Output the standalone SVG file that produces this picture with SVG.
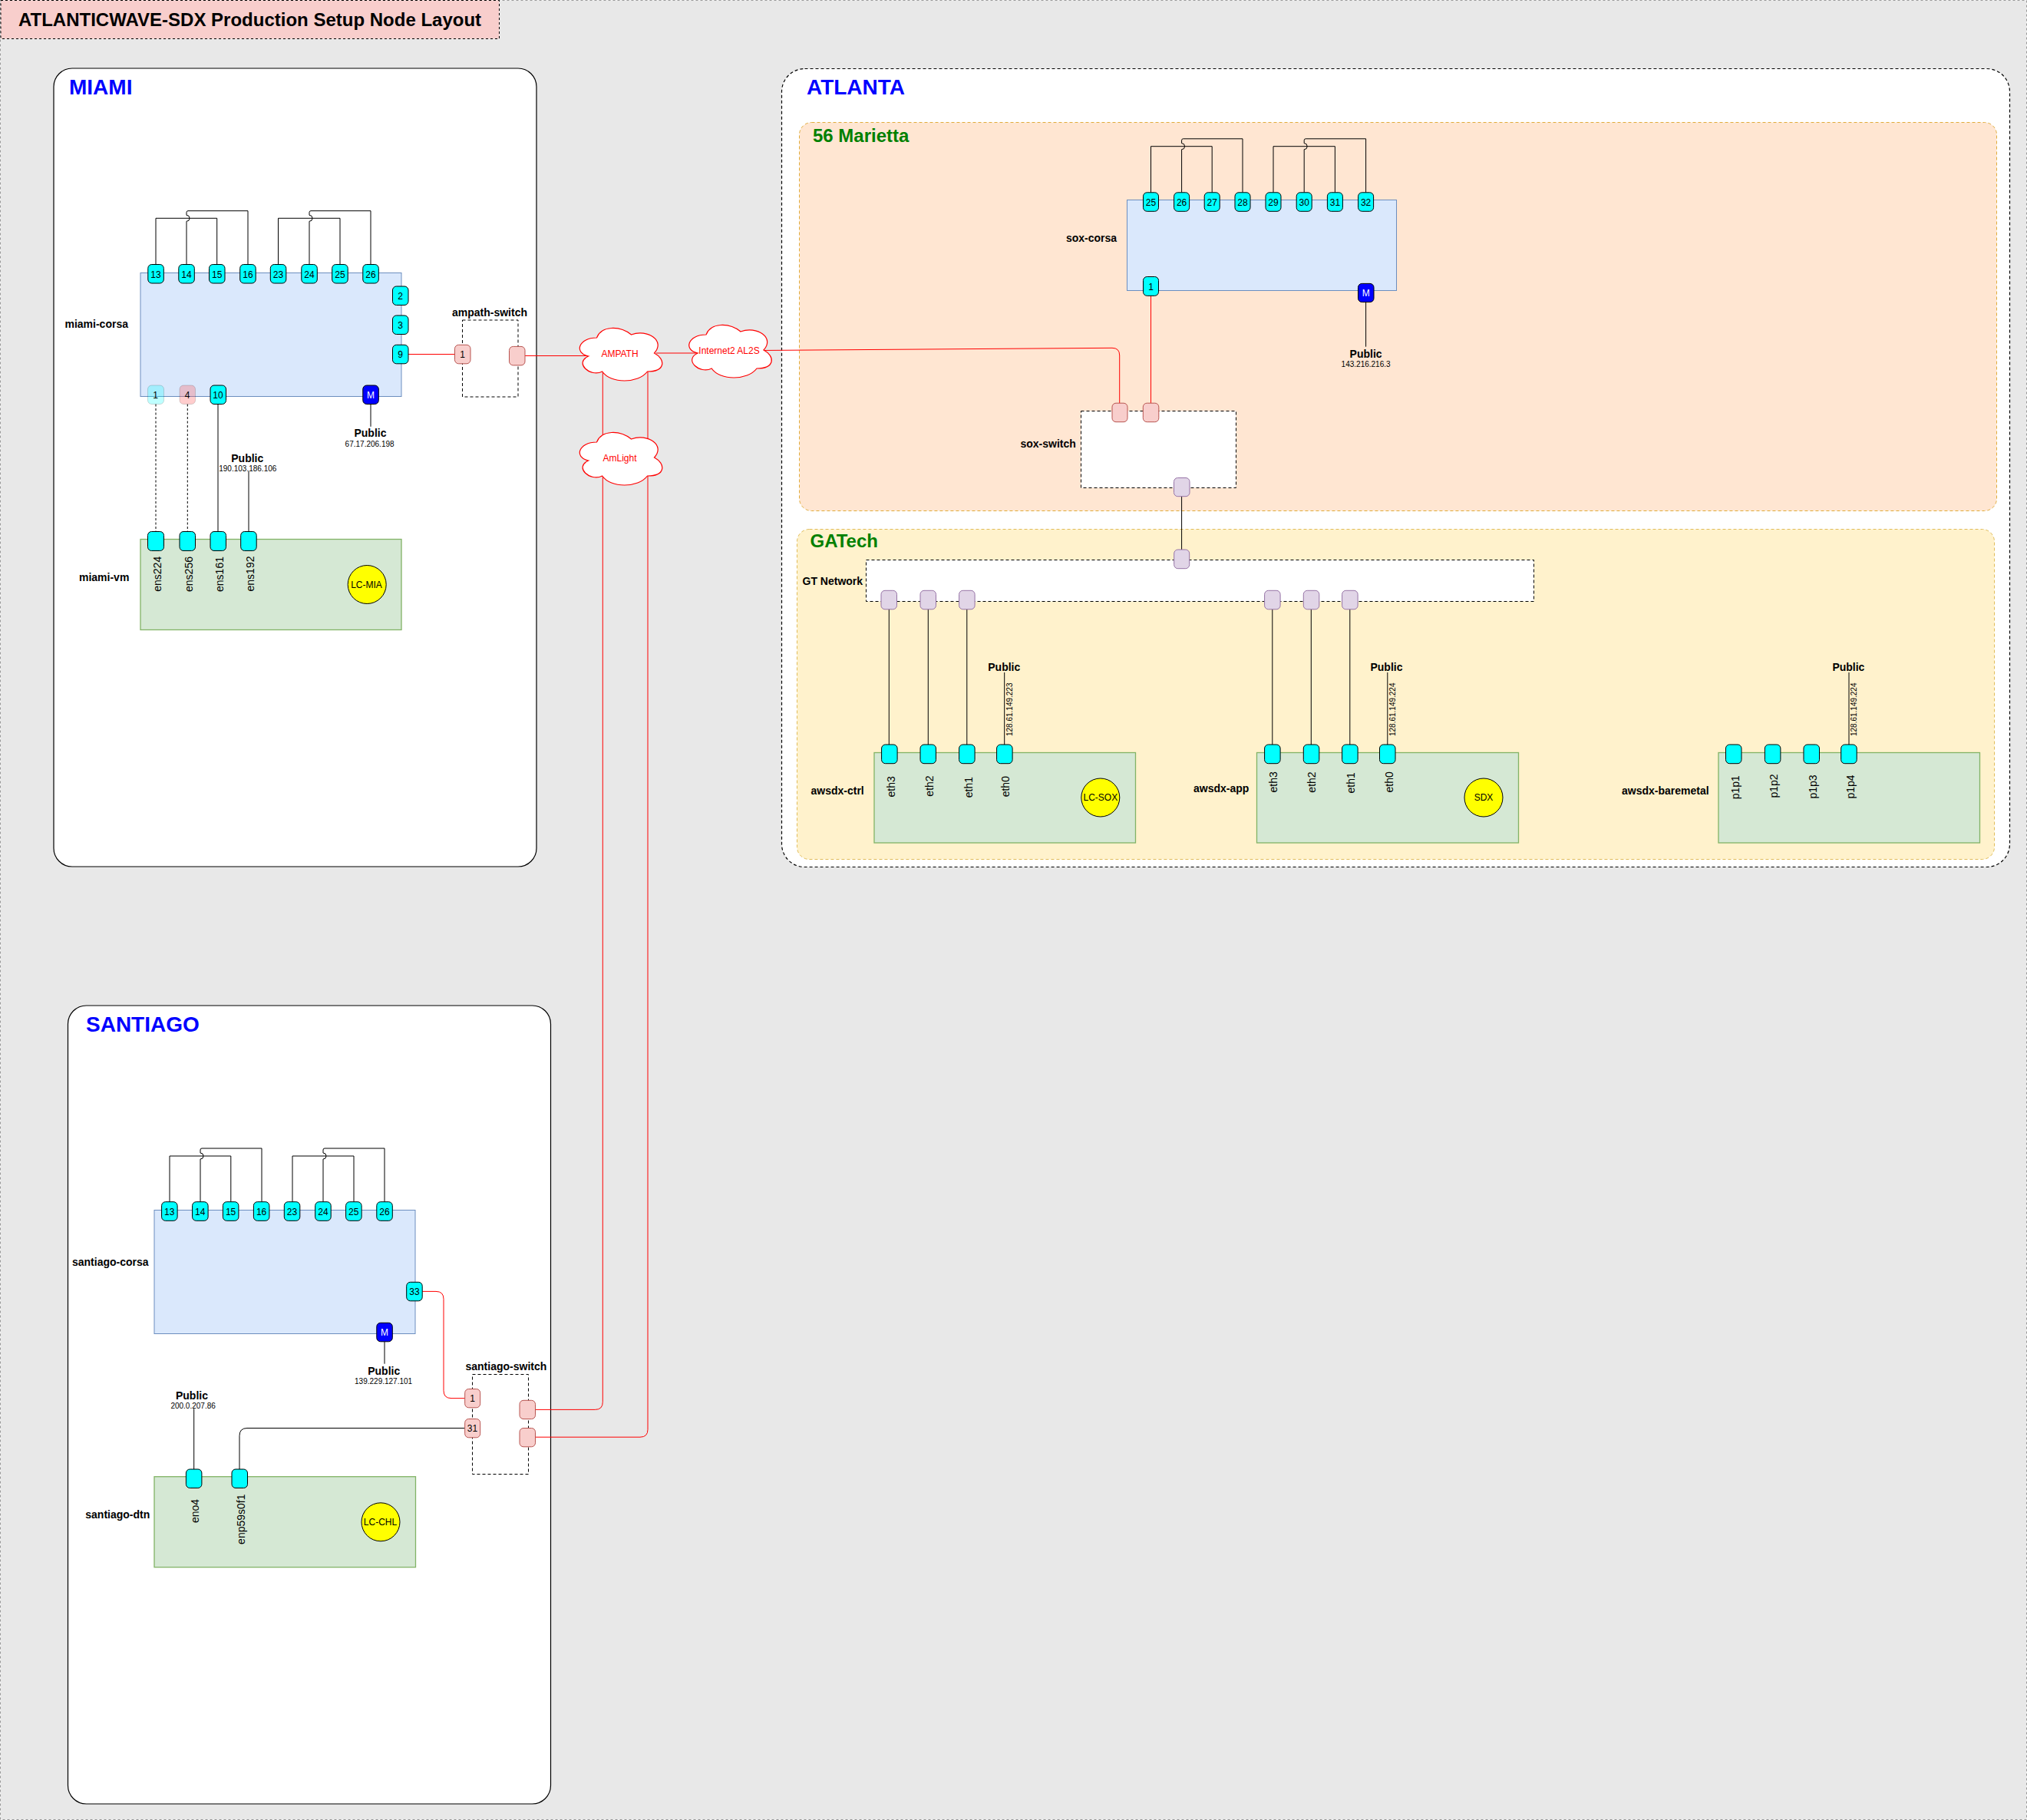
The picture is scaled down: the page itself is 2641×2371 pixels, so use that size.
<svg xmlns="http://www.w3.org/2000/svg" width="2641" height="2371" viewBox="0 0 2641 2371">
<style>
text{font-family:"Liberation Sans",Arial,sans-serif;fill:#000}
.c text,.lab,.ip,.rot,.bt,.big{dominant-baseline:central}
.lab{font-weight:bold;font-size:14px}
.pub{font-weight:bold;font-size:14px;text-anchor:middle;dominant-baseline:central}
.ip{font-size:10px;text-anchor:middle}
.rot{font-size:14px;text-anchor:middle}
.ttl{font-weight:bold;font-size:28px;fill:#00f}
.sub{font-weight:bold;font-size:24px;fill:#008000}
.site{fill:#fff;stroke:#000;stroke-width:1.2}
.dash{stroke-dasharray:4 3}
.sw{fill:#fff;stroke:#000;stroke-dasharray:4 3}
.corsa{fill:#dae8fc;stroke:#6c8ebf}
.vm{fill:#d5e8d4;stroke:#82b366;stroke-width:1.3}
.c rect{stroke:#000;stroke-width:1}
.c text{font-size:12px;text-anchor:middle}
.cy rect{fill:#0ff}
.rd rect{fill:#f8cecc;stroke:#b85450}
.pu rect{fill:#e1d5e7;stroke:#9673a6}
.bl rect{fill:#00f}
.bl text{fill:#fff}
.lc circle{fill:#ff0;stroke:#000}
.lc text{font-size:12px;text-anchor:middle;dominant-baseline:central}
.cloud use{fill:#fff;stroke:#f00;stroke-width:1.2}
.cloud text{fill:#f00;font-size:12px;text-anchor:middle;dominant-baseline:central}
#connectors path{fill:none;stroke:#000;stroke-width:1}
#connectors .r{stroke:#f00}
#connectors .d{stroke-dasharray:3 2.5}
</style>
<defs>
<path id="cloud" d="M30 20C6 20 0 40 19.200 44C0 52.800 21.600 72 37.200 64C48 80 84 80 96 64C120 64 120 48 105 40C120 24 96 8 75 16C60 4 36 4 30 20Z"/>
</defs>

<g id="background"><rect x="0.500" y="0.500" width="2640" height="2370" fill="#e8e8e8" stroke="#999" stroke-dasharray="3 3"/></g>

<g id="title"><rect x="1" y="0.500" width="649.500" height="50" fill="#f8cecc" stroke="#000" stroke-dasharray="3 3"/><text x="24" y="33.500" font-size="24" font-weight="bold">ATLANTICWAVE-SDX Production Setup Node Layout</text></g>

<g id="site-miami"><rect class="site" x="70" y="89" width="629" height="1040" rx="24"/><text class="ttl" x="90" y="122.500">MIAMI</text></g>
<g id="site-santiago"><rect class="site" x="88.500" y="1310" width="629" height="1040" rx="24"/><text class="ttl" x="112" y="1343.500">SANTIAGO</text></g>
<g id="site-atlanta"><rect class="site dash" stroke-width="1" x="1018.500" y="89.500" width="1600" height="1040" rx="30"/><text class="ttl" x="1051" y="122.700">ATLANTA</text></g>
<g id="site-56-marietta"><rect x="1041.500" y="159.500" width="1560" height="506" rx="16" fill="#ffe6d2" stroke="#e0ac3c" stroke-dasharray="4 3"/><text class="sub" x="1059" y="184.800">56 Marietta</text></g>
<g id="site-gatech"><rect x="1038.500" y="689.500" width="1560" height="430" rx="16" fill="#fff2cc" stroke="#e0bc58" stroke-dasharray="4 3"/><text class="sub" x="1055.500" y="712.700">GATech</text></g>

<g id="miami-corsa"><rect class="corsa" x="183" y="355.500" width="340" height="161"/><text class="lab" x="84.500" y="421.500">miami-corsa</text></g>
<g id="miami-vm"><rect class="vm" x="183" y="702.500" width="340" height="118"/><text class="lab" x="103" y="751.500">miami-vm</text>
<text class="rot" transform="translate(205.200 747.800) rotate(-90)">ens224</text><text class="rot" transform="translate(245.600 748) rotate(-90)">ens256</text><text class="rot" transform="translate(285.600 748) rotate(-90)">ens161</text><text class="rot" transform="translate(326 747.500) rotate(-90)">ens192</text></g>
<g id="ampath-switch"><rect x="602.500" y="417" width="72.500" height="100" fill="none" stroke="#000" stroke-dasharray="4 3"/><text class="lab" x="589" y="406.500">ampath-switch</text></g>
<g id="sox-corsa"><rect class="corsa" x="1468.500" y="260.500" width="351" height="118"/><text class="lab" x="1389" y="309.500">sox-corsa</text></g>
<g id="sox-switch"><rect class="sw" x="1408.500" y="535.500" width="202" height="100"/><text class="lab" x="1329.500" y="578">sox-switch</text></g>
<g id="gt-network"><rect class="sw" x="1128.500" y="729.500" width="870" height="54"/><text class="lab" x="1045.500" y="757">GT Network</text></g>
<g id="awsdx-ctrl"><rect class="vm" x="1139" y="980.500" width="340.500" height="117.500"/><text class="lab" x="1056.500" y="1029.500">awsdx-ctrl</text>
<text class="rot" transform="translate(1160.800 1024.800) rotate(-90)">eth3</text><text class="rot" transform="translate(1210.800 1024) rotate(-90)">eth2</text><text class="rot" transform="translate(1261.800 1025.600) rotate(-90)">eth1</text><text class="rot" transform="translate(1309.800 1024.700) rotate(-90)">eth0</text></g>
<g id="awsdx-app"><rect class="vm" x="1637.500" y="980.500" width="341" height="117.500"/><text class="lab" x="1555" y="1026.700">awsdx-app</text>
<text class="rot" transform="translate(1659.300 1018.800) rotate(-90)">eth3</text><text class="rot" transform="translate(1709.300 1019) rotate(-90)">eth2</text><text class="rot" transform="translate(1759.800 1019.800) rotate(-90)">eth1</text><text class="rot" transform="translate(1809.800 1018.800) rotate(-90)">eth0</text></g>
<g id="awsdx-baremetal"><rect class="vm" x="2239" y="980.500" width="340.500" height="117.500"/><text class="lab" x="2113" y="1029.500">awsdx-baremetal</text>
<text class="rot" transform="translate(2261.400 1025.700) rotate(-90)">p1p1</text><text class="rot" transform="translate(2311.300 1024) rotate(-90)">p1p2</text><text class="rot" transform="translate(2361.700 1025) rotate(-90)">p1p3</text><text class="rot" transform="translate(2410.500 1025) rotate(-90)">p1p4</text></g>
<g id="santiago-corsa"><rect class="corsa" x="201" y="1576.500" width="340" height="161"/><text class="lab" x="94" y="1643.700">santiago-corsa</text></g>
<g id="santiago-switch"><rect x="615.500" y="1790.500" width="73" height="130" fill="none" stroke="#000" stroke-dasharray="4 3"/><text class="lab" x="606.500" y="1779.500">santiago-switch</text></g>
<g id="santiago-dtn"><rect class="vm" x="201" y="1923.700" width="340.500" height="118"/><text class="lab" x="111.300" y="1973.200">santiago-dtn</text>
<text class="rot" transform="translate(253.700 1968.500) rotate(-90)">eno4</text><text class="rot" transform="translate(313.900 1979.200) rotate(-90)">enp59s0f1</text></g>

<g id="connectors">
<path d="M203 344.500V284.300H282.700V344.500"/><path d="M243 344.500V288.300a4 4 0 0 0 0-8V276.700Q243 274.700 245 274.700H323V344.500"/>
<path d="M362.500 344.500V284.300H443V344.500"/><path d="M403 344.500V288.300a4 4 0 0 0 0-8V276.700Q403 274.700 405 274.700H483V344.500"/>
<path class="d" d="M203 526.500V692.500"/><path class="d" d="M244.300 526.500V692.500"/><path d="M284 526.500V692.500"/><path d="M324 613.800V692.500"/><path d="M483 526.500V555.800"/>
<path class="r" d="M532 461.500H592.500"/><path class="r" d="M684 463.500H780"/><path class="r" d="M855 460H910"/>
<path class="r" d="M990 456.500L1449 453.300Q1458.700 453.300 1458.700 463V525.200"/>
<path class="r" d="M697.600 1836.400H775.300Q785.300 1836.400 785.300 1826.400V480"/>
<path class="r" d="M697.600 1872.200H834Q844 1872.200 844 1862.200V480"/>
<path d="M1499.500 250.800V190.700H1579.200V250.800"/><path d="M1539.600 250.800V194.700a4 4 0 0 0 0-8V182.800Q1539.600 180.800 1541.600 180.800H1619V250.800"/>
<path d="M1659 250.800V190.700H1739.400V250.800"/><path d="M1699.200 250.800V194.700a4 4 0 0 0 0-8V182.800Q1699.200 180.800 1701.200 180.800H1779.600V250.800"/>
<path class="r" d="M1499.500 385.300V525.200"/><path d="M1779.600 393.600V451.700"/><path d="M1539.600 646.600V716"/>
<path d="M1158.300 793.700V970"/><path d="M1209.300 793.700V970"/><path d="M1259.800 793.700V970"/><path d="M1308.700 876V970"/>
<path d="M1657.800 793.700V970"/><path d="M1708.300 793.700V970"/><path d="M1758.800 793.700V970"/><path d="M1807.800 876V970"/><path d="M2409 876V970"/>
<path d="M221 1565.700V1506H300.800V1565.700"/><path d="M261 1565.700V1510a4 4 0 0 0 0-8V1498Q261 1496 263 1496H341V1565.700"/>
<path d="M381 1565.700V1506H461V1565.700"/><path d="M421 1565.700V1510a4 4 0 0 0 0-8V1498Q421 1496 423 1496H501V1565.700"/>
<path d="M501 1747.700V1776.700"/>
<path class="r" d="M550.300 1682.400H568Q578 1682.400 578 1692.400V1811.600Q578 1821.600 588 1821.600H605.700"/>
<path d="M605.700 1860.500H322Q312 1860.500 312 1870.500V1914"/><path d="M252.700 1835.200V1914"/>
</g>

<g id="miami-ports" class="c">
<g class="cy" id="mc13"><rect x="192.800" y="344.500" width="20.500" height="24.500" rx="5"/><text x="203" y="357.500">13</text></g>
<g class="cy" id="mc14"><rect x="232.800" y="344.500" width="20.500" height="24.500" rx="5"/><text x="243" y="357.500">14</text></g>
<g class="cy" id="mc15"><rect x="272.500" y="344.500" width="20.500" height="24.500" rx="5"/><text x="282.700" y="357.500">15</text></g>
<g class="cy" id="mc16"><rect x="312.700" y="344.500" width="20.500" height="24.500" rx="5"/><text x="323" y="357.500">16</text></g>
<g class="cy" id="mc23"><rect x="352.300" y="344.500" width="20.500" height="24.500" rx="5"/><text x="362.500" y="357.500">23</text></g>
<g class="cy" id="mc24"><rect x="392.800" y="344.500" width="20.500" height="24.500" rx="5"/><text x="403" y="357.500">24</text></g>
<g class="cy" id="mc25"><rect x="432.700" y="344.500" width="20.500" height="24.500" rx="5"/><text x="443" y="357.500">25</text></g>
<g class="cy" id="mc26"><rect x="472.800" y="344.500" width="20.500" height="24.500" rx="5"/><text x="483" y="357.500">26</text></g>
<g class="cy" id="mc2"><rect x="511.500" y="373" width="20.500" height="24.500" rx="5"/><text x="521.700" y="385.500">2</text></g>
<g class="cy" id="mc3"><rect x="511.500" y="411" width="20.500" height="24.500" rx="5"/><text x="521.700" y="423.500">3</text></g>
<g class="cy" id="mc9"><rect x="511.500" y="449.300" width="20.500" height="24.500" rx="5"/><text x="521.700" y="461.800">9</text></g>
<g id="mc1"><rect x="192.500" y="502" width="21" height="24.500" rx="5" fill="#0ff" fill-opacity="0.25" stroke-opacity="0.15"/><text x="202.500" y="514.500">1</text></g>
<g id="mc4"><rect x="234" y="502" width="20.500" height="24.500" rx="5" fill="#ff5858" fill-opacity="0.3" stroke-opacity="0.15"/><text x="244" y="514.500">4</text></g>
<g class="cy" id="mc10"><rect x="274" y="502" width="20.500" height="24.500" rx="5"/><text x="284" y="514.500">10</text></g>
<g class="bl" id="mcM"><rect x="472.800" y="502" width="20.500" height="24.500" rx="5"/><text x="483" y="514.500">M</text></g>
<g class="cy" id="vm224"><rect x="192.500" y="692.500" width="21" height="25" rx="5"/></g>
<g class="cy" id="vm256"><rect x="234" y="692.500" width="20.500" height="25" rx="5"/></g>
<g class="cy" id="vm161"><rect x="274" y="692.500" width="20.500" height="25" rx="5"/></g>
<g class="cy" id="vm192"><rect x="313.700" y="692.500" width="20.500" height="25" rx="5"/></g>
<g class="rd" id="amp1"><rect x="592.500" y="449.300" width="20.500" height="24.500" rx="5"/><text x="602.500" y="461.800">1</text></g>
<g class="rd" id="amp2"><rect x="663.500" y="451.400" width="20.500" height="24.500" rx="5"/></g>
</g>

<g id="atlanta-ports" class="c">
<g class="cy" id="sc25"><rect x="1489.500" y="250.800" width="20" height="24.500" rx="5"/><text x="1499.500" y="263.500">25</text></g>
<g class="cy" id="sc26"><rect x="1529.600" y="250.800" width="20" height="24.500" rx="5"/><text x="1539.600" y="263.500">26</text></g>
<g class="cy" id="sc27"><rect x="1569.200" y="250.800" width="20" height="24.500" rx="5"/><text x="1579.200" y="263.500">27</text></g>
<g class="cy" id="sc28"><rect x="1609" y="250.800" width="20" height="24.500" rx="5"/><text x="1619" y="263.500">28</text></g>
<g class="cy" id="sc29"><rect x="1649" y="250.800" width="20" height="24.500" rx="5"/><text x="1659" y="263.500">29</text></g>
<g class="cy" id="sc30"><rect x="1689.200" y="250.800" width="20" height="24.500" rx="5"/><text x="1699.200" y="263.500">30</text></g>
<g class="cy" id="sc31"><rect x="1729.400" y="250.800" width="20" height="24.500" rx="5"/><text x="1739.400" y="263.500">31</text></g>
<g class="cy" id="sc32"><rect x="1769.600" y="250.800" width="20" height="24.500" rx="5"/><text x="1779.600" y="263.500">32</text></g>
<g class="cy" id="sc1"><rect x="1489.500" y="360.500" width="20" height="24.800" rx="5"/><text x="1499.500" y="373.500">1</text></g>
<g class="bl" id="scM"><rect x="1769.500" y="369.400" width="20.500" height="24.200" rx="5"/><text x="1779.700" y="381.500">M</text></g>
<g class="rd" id="ss1"><rect x="1449" y="525.200" width="20" height="24.500" rx="5"/></g>
<g class="rd" id="ss2"><rect x="1489.300" y="525.200" width="20.500" height="24.500" rx="5"/></g>
<g class="pu" id="ss3"><rect x="1529.500" y="622.500" width="20.500" height="24.200" rx="5"/></g>
<g class="pu" id="gt0"><rect x="1529.700" y="716" width="20" height="24.700" rx="5"/></g>
<g class="pu" id="gt1"><rect x="1148" y="769.300" width="20.500" height="24.500" rx="5"/></g>
<g class="pu" id="gt2"><rect x="1199" y="769.300" width="20.500" height="24.500" rx="5"/></g>
<g class="pu" id="gt3"><rect x="1249.600" y="769.300" width="20.500" height="24.500" rx="5"/></g>
<g class="pu" id="gt4"><rect x="1647.600" y="769.300" width="20.500" height="24.500" rx="5"/></g>
<g class="pu" id="gt5"><rect x="1698.300" y="769.300" width="20.500" height="24.500" rx="5"/></g>
<g class="pu" id="gt6"><rect x="1748.600" y="769.300" width="20.500" height="24.500" rx="5"/></g>
<g class="cy" id="ctrl3"><rect x="1148.600" y="970" width="20.500" height="24.700" rx="5"/></g>
<g class="cy" id="ctrl2"><rect x="1199" y="970" width="20.500" height="24.700" rx="5"/></g>
<g class="cy" id="ctrl1"><rect x="1249.600" y="970" width="20.500" height="24.700" rx="5"/></g>
<g class="cy" id="ctrl0"><rect x="1298.600" y="970" width="20.500" height="24.700" rx="5"/></g>
<g class="cy" id="app3"><rect x="1647.600" y="970" width="20.500" height="24.700" rx="5"/></g>
<g class="cy" id="app2"><rect x="1698.300" y="970" width="20.500" height="24.700" rx="5"/></g>
<g class="cy" id="app1"><rect x="1748.600" y="970" width="20.500" height="24.700" rx="5"/></g>
<g class="cy" id="app0"><rect x="1797.500" y="970" width="20.500" height="24.700" rx="5"/></g>
<g class="cy" id="bm1"><rect x="2248.500" y="970" width="20.500" height="24.700" rx="5"/></g>
<g class="cy" id="bm2"><rect x="2299.400" y="970" width="20.500" height="24.700" rx="5"/></g>
<g class="cy" id="bm3"><rect x="2350" y="970" width="20.500" height="24.700" rx="5"/></g>
<g class="cy" id="bm4"><rect x="2398.700" y="970" width="20.500" height="24.700" rx="5"/></g>
</g>

<g id="santiago-ports" class="c">
<g class="cy" id="stc13"><rect x="210.600" y="1565.700" width="20.500" height="24.600" rx="5"/><text x="220.800" y="1578.500">13</text></g>
<g class="cy" id="stc14"><rect x="250.600" y="1565.700" width="20.500" height="24.600" rx="5"/><text x="260.800" y="1578.500">14</text></g>
<g class="cy" id="stc15"><rect x="290.400" y="1565.700" width="20.500" height="24.600" rx="5"/><text x="300.600" y="1578.500">15</text></g>
<g class="cy" id="stc16"><rect x="330.400" y="1565.700" width="20.500" height="24.600" rx="5"/><text x="340.600" y="1578.500">16</text></g>
<g class="cy" id="stc23"><rect x="370.300" y="1565.700" width="20.500" height="24.600" rx="5"/><text x="380.500" y="1578.500">23</text></g>
<g class="cy" id="stc24"><rect x="410.700" y="1565.700" width="20.500" height="24.600" rx="5"/><text x="420.900" y="1578.500">24</text></g>
<g class="cy" id="stc25"><rect x="450.600" y="1565.700" width="20.500" height="24.600" rx="5"/><text x="460.800" y="1578.500">25</text></g>
<g class="cy" id="stc26"><rect x="490.800" y="1565.700" width="20.500" height="24.600" rx="5"/><text x="501" y="1578.500">26</text></g>
<g class="cy" id="stc33"><rect x="529.700" y="1670.300" width="20.500" height="24.500" rx="5"/><text x="540" y="1682.800">33</text></g>
<g class="bl" id="stcM"><rect x="490.800" y="1723.300" width="20.500" height="24.500" rx="5"/><text x="501" y="1735.800">M</text></g>
<g class="rd" id="sts1"><rect x="605.700" y="1809.500" width="20" height="24.300" rx="5"/><text x="615.500" y="1821.800">1</text></g>
<g class="rd" id="sts31"><rect x="605.700" y="1848.500" width="20" height="24.300" rx="5"/><text x="615.500" y="1860.800">31</text></g>
<g class="rd" id="sts2"><rect x="677" y="1824.300" width="20.500" height="24.300" rx="5"/></g>
<g class="rd" id="sts3"><rect x="677" y="1860.500" width="20.500" height="24.300" rx="5"/></g>
<g class="cy" id="dtn1"><rect x="242.400" y="1914" width="20.500" height="24.500" rx="5"/></g>
<g class="cy" id="dtn2"><rect x="302" y="1914" width="20.500" height="24.500" rx="5"/></g>
</g>

<g id="public-labels">
<text class="pub" x="482.500" y="564.200">Public</text><text class="ip" x="481.600" y="578.500">67.17.206.198</text>
<text class="pub" x="322.300" y="597">Public</text><text class="ip" x="322.800" y="610.500">190.103.186.106</text>
<text class="pub" x="1779.600" y="460.800">Public</text><text class="ip" x="1779.600" y="474.600">143.216.216.3</text>
<text class="pub" x="1308.300" y="869">Public</text><text class="ip" transform="translate(1315 924.300) rotate(-90)">128.61.149.223</text>
<text class="pub" x="1806.500" y="869">Public</text><text class="ip" transform="translate(1814 924.300) rotate(-90)">128.61.149.224</text>
<text class="pub" x="2408.400" y="869">Public</text><text class="ip" transform="translate(2415.300 924.300) rotate(-90)">128.61.149.224</text>
<text class="pub" x="500.200" y="1786">Public</text><text class="ip" x="499.600" y="1799.400">139.229.127.101</text>
<text class="pub" x="250" y="1818">Public</text><text class="ip" x="251.600" y="1831.300">200.0.207.86</text>
</g>

<g id="lc-mia" class="lc"><circle cx="478.200" cy="761.500" r="25"/><text x="477.500" y="761.500">LC-MIA</text></g>
<g id="lc-sox" class="lc"><circle cx="1433.800" cy="1039" r="25"/><text x="1433.800" y="1039">LC-SOX</text></g>
<g id="sdx" class="lc"><circle cx="1933" cy="1039" r="25"/><text x="1933" y="1039">SDX</text></g>
<g id="lc-chl" class="lc"><circle cx="496" cy="1982.800" r="25"/><text x="495.500" y="1982.800">LC-CHL</text></g>

<g id="cloud-ampath" class="cloud"><use href="#cloud" x="747.500" y="420"/><text x="807.500" y="460.500">AMPATH</text></g>
<g id="cloud-amlight" class="cloud"><use href="#cloud" x="747.500" y="556"/><text x="807.500" y="596.500">AmLight</text></g>
<g id="cloud-internet2" class="cloud"><use href="#cloud" x="890" y="416"/><text x="950" y="456.500">Internet2 AL2S</text></g>
</svg>
